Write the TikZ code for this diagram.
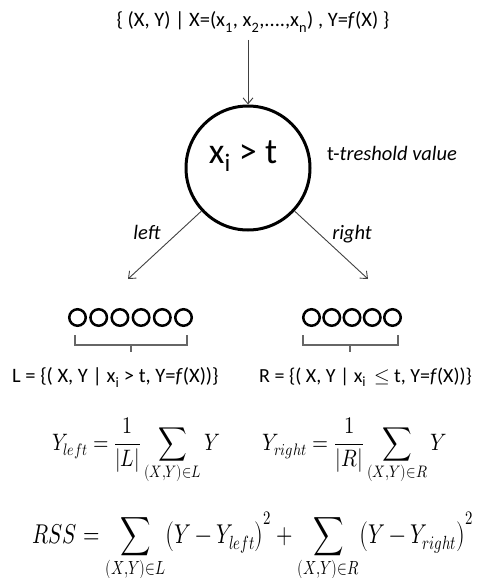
\documentclass[tikz,border=0pt]{standalone}
\usepackage{fontspec}
\usepackage{unicode-math}
\usepackage{graphicx}
\setmainfont{Carlito}
\setmathfont{Latin Modern Math}
\usetikzlibrary{arrows.meta}
\begin{document}
\begin{tikzpicture}[x=1pt,y=-1pt,
  lbl/.style={inner sep=0pt, font=\fontsize{20.5}{24}\selectfont},
  mth/.style={inner sep=0pt, font=\fontsize{26}{30}\selectfont},
  conn/.style={draw=black!75, line width=0.9pt, -{Straight Barb[length=6pt,width=10pt]}},
  dot/.style={circle, draw, line width=2.5pt, minimum size=16.5pt, inner sep=0pt},
  bigc/.style={circle, draw, line width=3pt, minimum size=124pt, inner sep=0pt},
  brace/.style={draw=black!60, line width=1.2pt}]
\useasboundingbox (0,0) rectangle (482,578);
% top set
\node[lbl, anchor=base] (top) at (253,27) {\{ (X, Y) | X=(x\textsubscript{1}, x\textsubscript{2},....,x\textsubscript{n}) , Y=\textit{f}(X) \}};
\coordinate (tstart) at (248,40);
% decision node
\node[bigc] (c) at (248,168) {};
\node[inner sep=0pt, anchor=base, font=\fontsize{36}{40}\selectfont] (cond) at (243,163) {x\textsubscript{i} > t};
\node[lbl, anchor=base west] (thr) at (327,160) {t-\textit{treshold value}};
\draw[conn] (tstart) -- (c);
% branches
\coordinate (lend) at (128,279);
\coordinate (rend) at (368,279);
\draw[conn] (c) -- (lend);
\draw[conn] (c) -- (rend);
\node[lbl, anchor=base] (ll) at (147,239) {\textit{left}};
\node[lbl, anchor=base] (rl) at (352,239) {\textit{right}};
% sample dots
\foreach \i in {1,...,6} \node[dot] (l\i) at ({77.5+21.2*(\i-1)},317.5) {};
\foreach \i in {1,...,5} \node[dot] (r\i) at ({311.5+20.25*(\i-1)},317.5) {};
% braces
\draw[brace] (75,335) |- (187,345) -- (187,335);
\draw[brace] (131,345) -- (131,352);
\draw[brace] (303,335) |- (398,345) -- (398,335);
\draw[brace] (350,345) -- (350,352);
% sets
\node[lbl, anchor=base west] (Lset) at (12,382) {L = \{( X, Y | x\textsubscript{i} > t, Y=\textit{f}(X))\}};
\node[lbl, anchor=base west, font=\fontsize{20}{24}\selectfont] (Rset) at (259,382) {R = \{( X, Y | x\textsubscript{i} \,$\leq$ t, Y=\textit{f}(X))\}};
% formulas
\node[mth, anchor=base west] (yl) at (52,450) {\resizebox*{168pt}{66pt}{$\displaystyle Y_{left}=\frac{1}{|L|}\sum_{(X,Y)\in L} Y$}};
\node[mth, anchor=base west] (yr) at (262,450) {\resizebox*{185pt}{66pt}{$\displaystyle Y_{right}=\frac{1}{|R|}\sum_{(X,Y)\in R} Y$}};
\node[mth, anchor=base west] (rss) at (32,543) {\resizebox*{441pt}{70pt}{$\displaystyle RSS=\sum_{(X,Y)\in L}\bigl(Y-Y_{left}\bigr)^2+\sum_{(X,Y)\in R}\bigl(Y-Y_{right}\bigr)^2$}};
\end{tikzpicture}
\end{document}
